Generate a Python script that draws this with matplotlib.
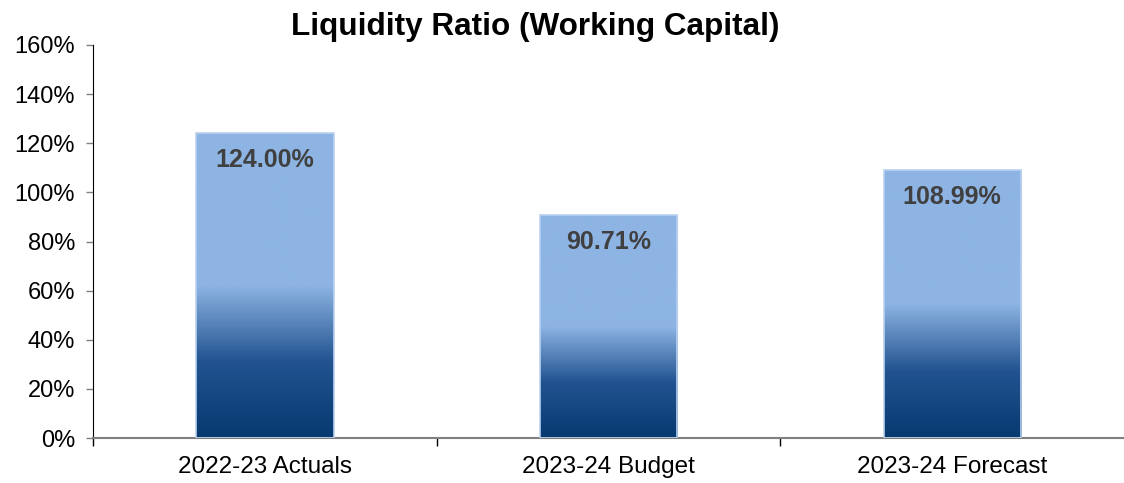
import numpy as np
import matplotlib.pyplot as plt
from matplotlib.colors import LinearSegmentedColormap
from matplotlib.ticker import FuncFormatter

plt.rcParams['font.family'] = ['Liberation Sans', 'DejaVu Sans']

categories = ['2022-23 Actuals', '2023-24 Budget', '2023-24 Forecast']
ratios = [124.00, 90.71, 108.99]

fig = plt.figure(figsize=(11.24, 4.83), dpi=100)
ax = fig.add_axes([0.083, 0.093, 0.917, 0.814])

x = np.arange(len(categories))
bars = ax.bar(x, ratios, width=0.4, facecolor='none', edgecolor='#b9d1ee',
              linewidth=1.2, zorder=3)

# dark navy at the base fading into light blue at about half height
cmap = LinearSegmentedColormap.from_list(
    'navy_fade', [(0.0, '#063a70'), (0.25, '#225390'), (0.5, '#8db4e3'), (1.0, '#8db4e3')])
grad = np.linspace(0, 1, 256).reshape(-1, 1)

for b, v in zip(bars, ratios):
    x0, w = b.get_x(), b.get_width()
    ax.imshow(grad, cmap=cmap, origin='lower', aspect='auto',
              extent=[x0, x0 + w, 0, b.get_height()], zorder=2)
    ax.text(b.get_x() + w / 2, v - 11, f'{v:.2f}%', ha='center', va='center',
            fontsize=18, fontweight='bold', color='#404040', zorder=4)

ax.set_xlim(-0.5, 2.5)
ax.set_ylim(0, 160)
ax.set_yticks(np.arange(0, 161, 20))
ax.yaxis.set_major_formatter(FuncFormatter(lambda v, p: f'{v:.0f}%'))

ax.set_xticks(x)
ax.set_xticklabels(categories)
ax.set_xticks([-0.5, 0.5, 1.5], minor=True)
ax.tick_params(axis='x', which='major', length=0, pad=13, labelsize=17.5)
ax.tick_params(axis='x', which='minor', length=6, width=1, color='black')
ax.tick_params(axis='y', length=5, width=1, pad=8, labelsize=17, color='#808080')

ax.spines['top'].set_visible(False)
ax.spines['right'].set_visible(False)
ax.spines['left'].set_color('black')
ax.spines['bottom'].set_color('#808080')
ax.spines['bottom'].set_linewidth(1.5)

fig.text(0.476, 0.944, 'Liquidity Ratio (Working Capital)', ha='center', va='center',
         fontsize=22.7, fontweight='bold')

fig.savefig('out.png', dpi=100)
